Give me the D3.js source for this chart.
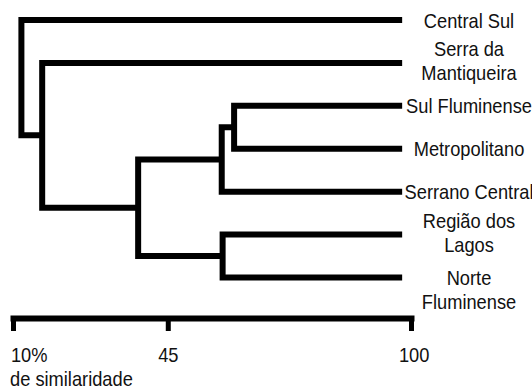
<!DOCTYPE html>
<html>
<head>
<meta charset="utf-8">
<script src="https://cdn.jsdelivr.net/npm/d3@7"></script>
<style>
  body { margin: 0; background: #fff; }
  svg text { font-family: "Liberation Sans", Arial, sans-serif; font-size: 21px; fill: #111; }
</style>
</head>
<body>
<svg id="chart" width="532" height="390"></svg>
<script>
// leaves, top to bottom
const leafNames = ["Central Sul", "Serra da Mantiqueira", "Sul Fluminense", "Metropolitano",
                   "Serrano Central", "Região dos Lagos", "Norte Fluminense"];
const leafLines = [["Central Sul"], ["Serra da", "Mantiqueira"], ["Sul Fluminense"], ["Metropolitano"],
                   ["Serrano Central"], ["Região dos", "Lagos"], ["Norte", "Fluminense"]];

// linkage: [cluster id, left child, right child, % similarity at merge]
const linkage = [
    ["g1", "Sul Fluminense", "Metropolitano", 60.0],
    ["g2", "g1", "Serrano Central", 57.2],
    ["g3", "Região dos Lagos", "Norte Fluminense", 57.4],
    ["g4", "g2", "g3", 38.3],
    ["g5", "Serra da Mantiqueira", "g4", 16.6],
    ["g6", "Central Sul", "g5", 11.9]
];
const leafSimilarity = 98;

const tickValues = [10, 45, 100];
const tickLabels = ["10%", "45", "100"];
const axisTitle = "de similaridade";

// layout
const svg = d3.select("#chart");
const x = d3.scaleLinear().domain([10, 100]).range([13, 411]);
const y = d3.scalePoint().domain(leafNames).range([20, 277.5]);
const axisY = 318;
const labelX = 469, squeeze = 0.87, lineGap = 23.5;
const labelNudge = { "Norte Fluminense": 14 };

function build(id) {
    const row = linkage.find(r => r[0] === id);
    if (!row) return { name: id, sim: leafSimilarity };
    return { name: id, sim: row[3], children: [build(row[1]), build(row[2])] };
}

const root = d3.hierarchy(build("g6"));
// leaves on the point scale, each merge halfway between its two branches
root.eachAfter(d => {
    d.ys = d.children ? d3.mean(d.children, c => c.ys) : y(d.data.name);
    d.xs = x(d.data.sim);
});

// elbows
svg.append("g")
    .selectAll("path")
    .data(root.descendants().filter(d => d.children))
    .join("path")
    .attr("d", d => {
        const [a, b] = d.children;
        return `M${a.xs},${a.ys}H${d.xs}V${b.ys}H${b.xs}`;
    })
    .attr("fill", "none")
    .attr("stroke", "#000")
    .attr("stroke-width", 6)
    .attr("stroke-linejoin", "miter");

// labels
leafNames.forEach((name, i) => {
    const lines = leafLines[i];
    const base = y(name) + 7.5 - (lines.length - 1) * 14 + (labelNudge[name] || 0);
    lines.forEach((t, k) => {
        svg.append("text")
            .attr("transform", `translate(${labelX},${base + k * lineGap}) scale(${squeeze},1)`)
            .attr("text-anchor", "middle")
            .text(t);
    });
});

// similarity axis
const axis = svg.append("g")
    .attr("transform", `translate(0,${axisY})`)
    .call(d3.axisBottom(x)
        .tickValues(tickValues)
        .tickSize(13)
        .tickSizeOuter(0)
        .tickFormat((d, i) => tickLabels[i]));

axis.select(".domain")
    .attr("stroke", "#000")
    .attr("stroke-width", 6)
    .attr("stroke-linecap", "square");
axis.selectAll(".tick line")
    .attr("stroke", "#000")
    .attr("stroke-width", 5);
axis.attr("font-size", null).attr("font-family", null);
axis.selectAll(".tick text")
    .attr("y", 44).attr("dy", 0)
    .attr("fill", "#111")
    .attr("text-anchor", (d, i) => i === 0 ? "start" : "middle")
    .attr("x", (d, i) => i === 0 ? -3 : (i === 2 ? 3 : 0))
    .attr("transform", `scale(${squeeze},1)`);

svg.append("text")
    .attr("transform", `translate(10,386) scale(${squeeze},1)`)
    .text(axisTitle);
</script>
</body>
</html>
